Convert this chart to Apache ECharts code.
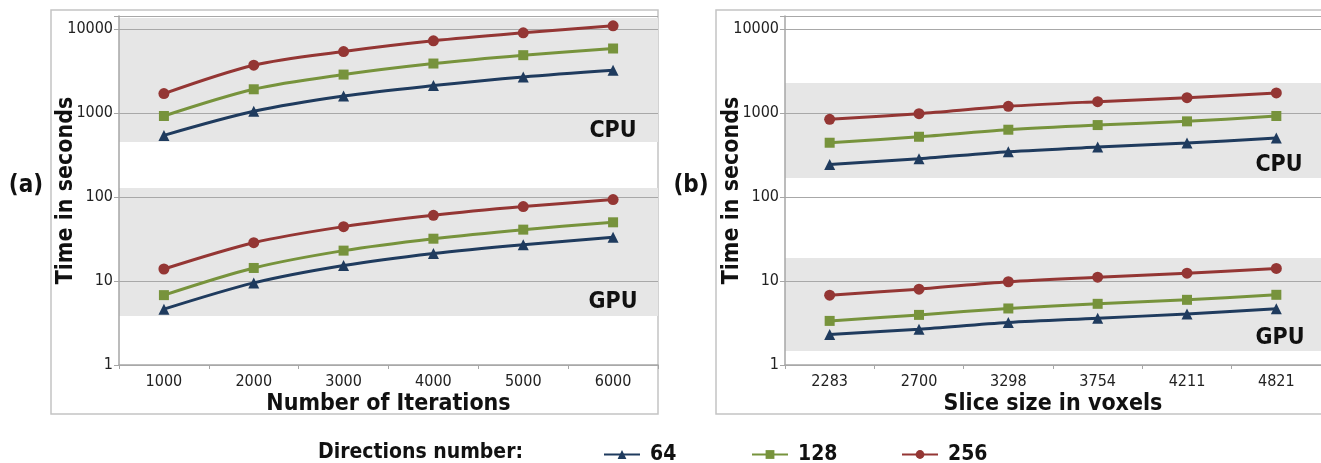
<!DOCTYPE html>
<html><head><meta charset="utf-8">
<script src="https://cdn.jsdelivr.net/npm/echarts@6/dist/echarts.min.js"></script>
<style>html,body{margin:0;padding:0;background:#fff}#c{width:1321px;height:463px}</style>
</head><body><div id="c"></div>
<script>
const iterations = ['1000','2000','3000','4000','5000','6000'];
const sliceSizes = ['2283','2700','3298','3754','4211','4821'];
const seriesNames = ['64','128','256'];
// (a) Number of iterations
const a_cpu_64  = [542, 1048, 1597, 2122, 2693, 3235];
const a_cpu_128 = [922, 1918, 2870, 3885, 4885, 5866];
const a_cpu_256 = [1703, 3710, 5400, 7245, 9020, 10940];
const a_gpu_64  = [4.62, 9.5, 15.3, 21.3, 27.1, 33.1];
const a_gpu_128 = [6.79, 14.3, 23.0, 31.9, 40.9, 50.0];
const a_gpu_256 = [13.9, 28.6, 44.4, 60.6, 76.9, 93.3];
// (b) Slice size in voxels
const b_cpu_64  = [244, 285, 346, 393, 439, 504];
const b_cpu_128 = [443, 522, 633, 719, 796, 922];
const b_cpu_256 = [841, 982, 1202, 1367, 1525, 1735];
const b_gpu_64  = [2.30, 2.67, 3.2, 3.6, 4.06, 4.66];
const b_gpu_128 = [3.35, 3.95, 4.71, 5.35, 5.97, 6.85];
const b_gpu_256 = [6.79, 8.0, 9.8, 11.1, 12.4, 14.1];
// shaded bands [low, high]
const a_bands = [[452, 13500], [3.83, 128]];
const b_bands = [[168, 2275], [1.47, 18.8]];
const yTicks = [1, 10, 100, 1000, 10000];

const colors = {'64':'#1f3b5e','128':'#77933c','256':'#943634'};
const symbols = {'64':'triangle','128':'rect','256':'circle'};
const symSizes = {'64':11,'128':10,'256':11};
const FONT = '"Liberation Sans Narrow","DejaVu Sans Condensed",Arial,sans-serif';

const chart = echarts.init(document.getElementById('c'), null, {renderer:'canvas'});

function lineSeries(name, data, gi) {
  return {
    name, type:'line', data, xAxisIndex:gi, yAxisIndex:gi, smooth:0.3,
    symbol:symbols[name], symbolSize:symSizes[name], z:5,
    lineStyle:{color:colors[name], width:3},
    itemStyle:{color:colors[name]},
    emphasis:{disabled:true}
  };
}
function bandSeries(bands, gi) {
  return {
    type:'line', data:[], xAxisIndex:gi, yAxisIndex:gi, z:1, silent:true,
    markArea:{silent:true, itemStyle:{color:'#e6e6e6'},
      data: bands.map(b => [{yAxis:b[0]},{yAxis:b[1]}])}
  };
}
function xAxis(gi, cats, name) {
  return {
    type:'category', gridIndex:gi, data:cats, boundaryGap:true,
    name, nameLocation:'middle', nameGap:28, nameMoveOverlap:false,
    nameTextStyle:{fontFamily:FONT, fontSize:23, fontWeight:'bold', color:'#111'},
    axisLine:{lineStyle:{color:'#a6a6a6', width:1.5}},
    axisTick:{show:true, length:4, lineStyle:{color:'#a6a6a6'}},
    axisLabel:{fontFamily:FONT, fontSize:16, color:'#222', margin:9},
    splitLine:{show:false}
  };
}
function yAxis(gi) {
  return {
    type:'log', logBase:10, gridIndex:gi, min:1, max:14300, z:3,
    name:'Time in seconds', nameLocation:'middle', nameGap:41, nameMoveOverlap:false,
    nameTextStyle:{fontFamily:FONT, fontSize:23, fontWeight:'bold', color:'#111'},
    axisLine:{show:true, lineStyle:{color:'#a6a6a6', width:1.5}},
    axisTick:{show:true, length:5, lineStyle:{color:'#a6a6a6'}},
    axisLabel:{fontFamily:FONT, fontSize:16, color:'#222', margin:6,
      formatter: v => yTicks.includes(Math.round(v)) ? String(Math.round(v)) : ''},
    splitLine:{show:true, lineStyle:{color:'#a8a8a8', width:1.2}}
  };
}
function txt(x, y, s, size, weight, align) {
  return {type:'text', x, y, z:10, style:{text:s, fontFamily:FONT, fontSize:size,
    fontWeight:weight, fill:'#111', align:align||'center', verticalAlign:'middle'}};
}
function legendItem(name, left) {
  return {
    data:[name], left, top:439, itemWidth:36, itemHeight:11, selectedMode:false,
    textStyle:{fontFamily:FONT, fontSize:21, fontWeight:'bold', color:'#111', padding:[0,0,0,5]}
  };
}

chart.setOption({
  animation:false,
  grid:[
    {left:119, top:16, width:539, height:349},
    {left:785, top:16, width:543, height:349}
  ],
  xAxis:[xAxis(0, iterations, 'Number of Iterations'), xAxis(1, sliceSizes, 'Slice size in voxels')],
  yAxis:[yAxis(0), yAxis(1)],
  legend:[legendItem('64', 598), legendItem('128', 746), legendItem('256', 896)],
  graphic:[
    {type:'rect', shape:{x:51, y:10, width:607, height:404}, style:{fill:null, stroke:'#c4c4c4', lineWidth:1.5}, z:0},
    {type:'rect', shape:{x:716, y:10, width:640, height:404}, style:{fill:null, stroke:'#c4c4c4', lineWidth:1.5}, z:0},
    txt(26, 186, '(a)', 24, 'bold'),
    txt(691, 186, '(b)', 24, 'bold'),
    txt(613, 131, 'CPU', 23, 'bold'),
    txt(613, 302, 'GPU', 23, 'bold'),
    txt(1279, 165, 'CPU', 23, 'bold'),
    txt(1280, 338, 'GPU', 23, 'bold'),
    txt(318, 453, 'Directions number:', 21, 'bold', 'left')
  ],
  series:[
    bandSeries(a_bands, 0),
    bandSeries(b_bands, 1),
    lineSeries('64', a_cpu_64, 0), lineSeries('128', a_cpu_128, 0), lineSeries('256', a_cpu_256, 0),
    lineSeries('64', a_gpu_64, 0), lineSeries('128', a_gpu_128, 0), lineSeries('256', a_gpu_256, 0),
    lineSeries('64', b_cpu_64, 1), lineSeries('128', b_cpu_128, 1), lineSeries('256', b_cpu_256, 1),
    lineSeries('64', b_gpu_64, 1), lineSeries('128', b_gpu_128, 1), lineSeries('256', b_gpu_256, 1)
  ]
});
</script></body></html>
